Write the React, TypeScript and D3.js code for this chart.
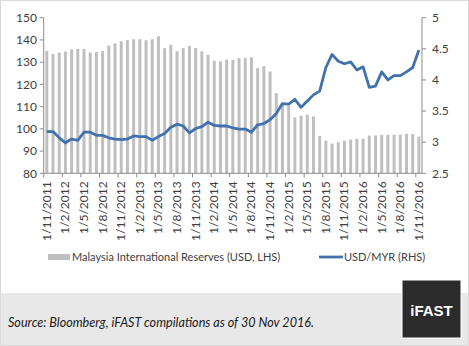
import React from "react";
import * as d3 from "d3";

const W = 469;
const H = 346;

// monthly, Nov 2011 .. Nov 2016
const months: string[] = (() => {
  const out: string[] = [];
  let y = 2011, m = 11;
  for (let i = 0; i < 61; i++) {
    out.push(`1/${m}/${y}`);
    m++;
    if (m > 12) { m = 1; y++; }
  }
  return out;
})();

const reserves: number[] = [
  135.1, 133.7, 134.3, 134.8, 135.7, 136.0, 136.0, 134.3, 134.6, 135.0,
  137.5, 138.4, 139.4, 139.9, 140.3, 140.3, 139.9, 140.3, 141.7, 136.3,
  137.8, 134.9, 136.4, 137.3, 136.4, 134.9, 133.3, 130.6, 130.4, 131.2,
  131.0, 131.8, 131.8, 132.2, 127.3, 128.2, 125.8, 116.1, 111.3, 110.4,
  105.2, 105.9, 106.4, 105.6, 96.8, 94.7, 93.4, 94.0, 94.7, 95.2,
  95.5, 95.6, 97.0, 97.0, 97.3, 97.3, 97.3, 97.4, 97.7, 97.7,
  96.5,
];

const usdmyr: number[] = [
  3.17, 3.17, 3.07, 2.99, 3.05, 3.03, 3.16, 3.16, 3.11, 3.11,
  3.07, 3.05, 3.04, 3.05, 3.10, 3.09, 3.09, 3.03, 3.09, 3.14,
  3.24, 3.29, 3.26, 3.15, 3.22, 3.25, 3.32, 3.27, 3.26, 3.26,
  3.23, 3.21, 3.21, 3.16, 3.28, 3.30, 3.36, 3.46, 3.62, 3.61,
  3.69, 3.56, 3.66, 3.76, 3.82, 4.20, 4.41, 4.30, 4.26, 4.29,
  4.16, 4.21, 3.88, 3.90, 4.13, 4.00, 4.07, 4.07, 4.13, 4.20,
  4.48,
];

const leftTicks: number[] = [80, 90, 100, 110, 120, 130, 140, 150];
const rightTicks: number[] = [2.5, 3, 3.5, 4, 4.5, 5];

const FONT = "Lato, 'Open Sans', sans-serif";

export default function App() {
  const x0 = 43.7, x1 = 422;
  const yTop = 17.7, yBot = 173.3;
  const x = d3.scaleBand<string>().domain(months).range([x0, x1]).paddingInner(0.52).paddingOuter(0.26);
  const xc = (d: string) => (x(d) as number) + x.bandwidth() / 2;
  const step = x.step();
  const yL = d3.scaleLinear().domain([80, 150]).range([yBot, yTop]);
  const yR = d3.scaleLinear().domain([2.5, 5]).range([yBot, yTop]);
  const line = d3.line<number>().x((_, i) => xc(months[i])).y((v) => yR(v));
  const labelIdx = months.map((_, i) => i).filter((i) => i % 3 === 0);
  const axisColor = "#8c8c8c";

  return (
    <>
      <style>{`body{margin:0}`}</style>
      <svg width={W} height={H} style={{ display: "block" }} fontFamily={FONT}>
        <rect x={0} y={0} width={W} height={H} fill="#fff" />
        <rect x={0.5} y={0.5} width={W - 1} height={H - 1} fill="none" stroke="#d9d9d9" />
        {/* bars */}
        {reserves.map((v, i) => (
          <rect key={i} x={x(months[i])} y={yL(v)} width={x.bandwidth()} height={yBot - yL(v)} fill="#bfbfbf" />
        ))}
        {/* line */}
        <path d={line(usdmyr) || ""} fill="none" stroke="#4272ae" strokeWidth={2.8} strokeLinejoin="round" />
        {/* left axis */}
        <line x1={x0} x2={x0} y1={yTop} y2={yBot} stroke={axisColor} />
        {leftTicks.map((t) => (
          <g key={t}>
            <line x1={x0 - 4} x2={x0} y1={yL(t)} y2={yL(t)} stroke={axisColor} />
            <text x={37} y={yL(t)} dy="0.35em" textAnchor="end" fontSize={12} fill="#404040">{t}</text>
          </g>
        ))}
        {/* right axis */}
        <line x1={x1} x2={x1} y1={yTop} y2={yBot} stroke={axisColor} />
        {rightTicks.map((t) => (
          <g key={t}>
            <line x1={x1} x2={x1 + 4} y1={yR(t)} y2={yR(t)} stroke={axisColor} />
            <text x={432} y={yR(t)} dy="0.35em" textAnchor="start" fontSize={12} fill="#404040">{t}</text>
          </g>
        ))}
        {/* x axis */}
        <line x1={x0} x2={x1} y1={yBot} y2={yBot} stroke={axisColor} />
        {labelIdx.map((i) => (
          <g key={i}>
            <line x1={x0 + i * step} x2={x0 + i * step} y1={yBot} y2={yBot + 4} stroke={axisColor} />
            <text
              transform={`translate(${xc(months[i]) + 4},${yBot + 8}) rotate(-90)`}
              textAnchor="end"
              fontSize={12}
              fill="#404040"
            >
              {months[i]}
            </text>
          </g>
        ))}
        {/* legend */}
        <rect x={48} y={254} width={22} height={6} fill="#bfbfbf" />
        <text x={72} y={257} dy="0.35em" fontSize={11} fill="#404040">Malaysia International Reserves (USD, LHS)</text>
        <line x1={319} x2={343} y1={257} y2={257} stroke="#4272ae" strokeWidth={2.8} />
        <text x={344} y={257} dy="0.35em" fontSize={11} fill="#404040">USD/MYR (RHS)</text>
        {/* footer */}
        <rect x={1} y={293} width={W - 2} height={H - 294} fill="#e8e8e8" />
        <text x={8} y={327} fontSize={12.6} fontStyle="italic" fill="#1a1a1a">Source: Bloomberg, iFAST compilations as of 30 Nov 2016.</text>
        <rect x={402} y={280} width={59} height={58} fill="#2b2b2b" stroke="#ffffff" strokeWidth={1} />
        <text x={431.5} y={311} textAnchor="middle" dy="0.35em" fontSize={15} fontWeight="bold" fill="#ffffff" fontFamily="'Liberation Sans', Arial, sans-serif">iFAST</text>
      </svg>
    </>
  );
}
